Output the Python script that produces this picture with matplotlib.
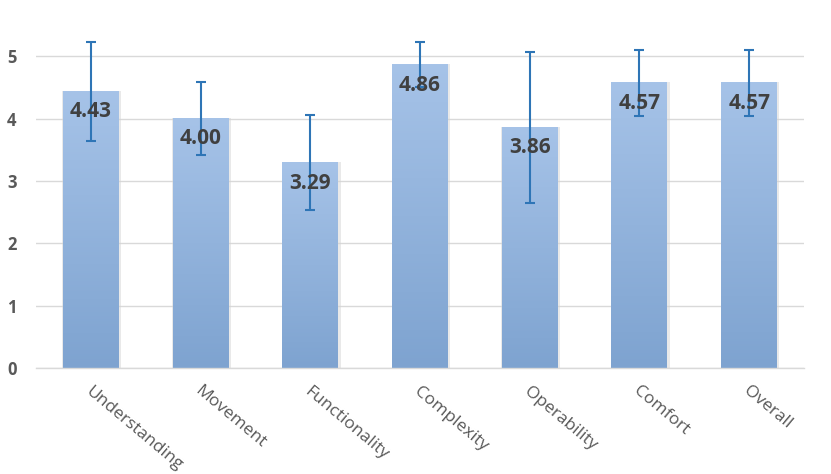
import numpy as np
import matplotlib
matplotlib.use("Agg")
import matplotlib.pyplot as plt
from matplotlib.colors import LinearSegmentedColormap

categories = ["Understanding", "Movement", "Functionality", "Complexity", "Operability", "Comfort", "Overall"]
means = [4.43, 4.00, 3.29, 4.86, 3.86, 4.57, 4.57]
errors = [0.79, 0.58, 0.76, 0.36, 1.21, 0.53, 0.53]
yticks = [0, 1, 2, 3, 4, 5]

plt.rcParams['font.family'] = ['Open Sans', 'DejaVu Sans']

fig = plt.figure(figsize=(8.31, 4.74), dpi=100)
ax = fig.add_axes([36/831, 1-368/474, 768/831, 343/474])

x = np.arange(len(categories))
width = 0.51
bars = ax.bar(x, means, width=width, color='none', zorder=2)

cmap = LinearSegmentedColormap.from_list('g', ['#7ea3d0', '#a6c3e8'])
grad = np.linspace(0, 1, 256).reshape(-1, 1)
for b in bars:
    x0, y0 = b.get_x(), b.get_y()
    w, h = b.get_width(), b.get_height()
    ax.bar(x0 + w/2 + 0.008, h + 0.01, width=w + 0.025, color='#d4d4d4', alpha=0.5, zorder=1.5)
    ax.imshow(grad, extent=[x0, x0 + w, 0, h], origin='lower', cmap=cmap,
              aspect='auto', zorder=2)

ax.errorbar(x, means, yerr=errors, fmt='none', ecolor='#2e75b6', elinewidth=1.5,
            capsize=3.5, capthick=1.5, zorder=3)

for xi, m in zip(x, means):
    ax.annotate(f"{m:.2f}", (xi, m), xytext=(0, -7), textcoords='offset points',
                ha='center', va='top', fontsize=15, fontweight='bold', color='#404040', zorder=4)

ax.set_xlim(-0.5, len(categories) - 0.5)
ax.set_ylim(0, 5.5)
ax.set_yticks(yticks)
ax.set_yticklabels([str(t) for t in yticks], fontsize=12, fontweight='bold', color='#595959')
ax.yaxis.grid(True, color='#d9d9d9', linewidth=1)
ax.set_axisbelow(True)
ax.tick_params(axis='y', length=0, pad=14)
ax.tick_params(axis='x', length=0)
for s in ['top', 'right', 'left']:
    ax.spines[s].set_visible(False)
ax.spines['bottom'].set_color('#d9d9d9')
ax.spines['bottom'].set_linewidth(1)

ax.set_xticks(x)
ax.set_xticklabels([])
for xi, c in zip(x, categories):
    ax.annotate(c, (xi, 0), xytext=(1, -11), textcoords='offset points',
                ha='left', va='top', rotation=-40, rotation_mode='anchor',
                fontsize=12.5, color='#595959')

fig.savefig("out.png", dpi=100)
